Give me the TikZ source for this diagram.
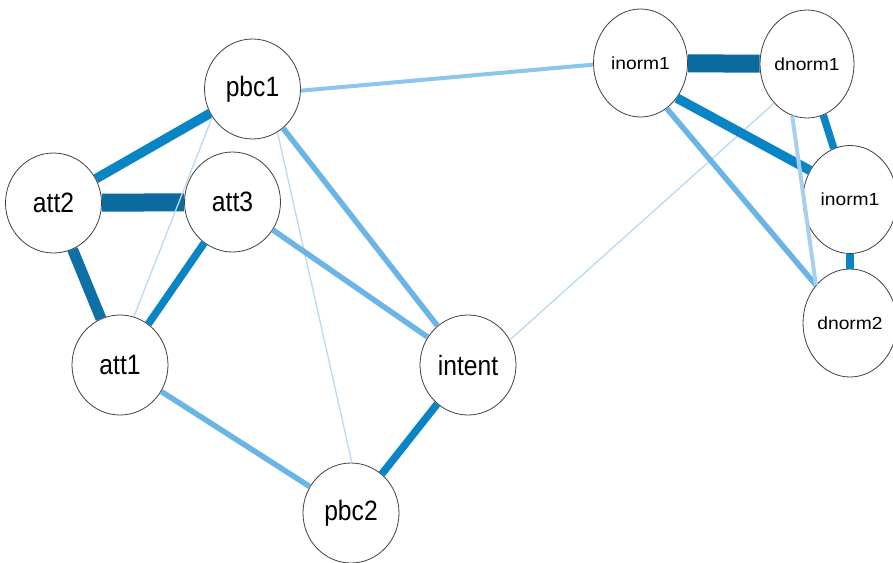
\documentclass[tikz,border=0pt]{standalone}
\usepackage{fontspec}
\setmainfont{Liberation Sans}
\newfontfamily\lfont[FakeStretch=0.88]{Liberation Sans}
\newfontfamily\rfont[FakeStretch=1.1]{Liberation Sans}
\usetikzlibrary{shapes.geometric}
\definecolor{cDark}{HTML}{0B6A9E}
\definecolor{cDarkB}{HTML}{0D71A6}
\definecolor{cMid}{HTML}{0984C4}
\definecolor{cLight}{HTML}{6AB4E6}
\definecolor{cSoft}{HTML}{8CC6EE}
\definecolor{cPale}{HTML}{A6D0F2}
\definecolor{cThin}{HTML}{B8DAF4}
\begin{document}
\begin{tikzpicture}[x=1pt,y=-1pt,
  lnode/.style={ellipse,draw=black!75,line width=0.8pt,fill=white,minimum width=96pt,minimum height=100pt,inner sep=0pt,font=\lfont\fontsize{28}{30}\selectfont},
  rnode/.style={ellipse,draw=black!75,line width=0.8pt,fill=white,minimum width=94pt,minimum height=108pt,inner sep=0pt,font=\rfont\fontsize{17.5}{20}\selectfont},
  eDark/.style={draw=cDark,line width=18pt},
  eDarkB/.style={draw=cDarkB,line width=11pt},
  eMidA/.style={draw=cMid,line width=9.5pt},
  eMidB/.style={draw=cMid,line width=7.5pt},
  eLight/.style={draw=cLight,line width=5.5pt},
  eSoft/.style={draw=cSoft,line width=4pt},
  ePale/.style={draw=cPale,line width=4pt},
  eThin/.style={draw=cThin,line width=1.3pt}]
\useasboundingbox (0,0) rectangle (893,562);
\fill[white] (0,0) rectangle (893,562);

\node[lnode] (pbc1) at (252.5,89) {pbc1};
\node[lnode] (att2) at (53.5,203) {att2};
\node[lnode] (att3) at (232.5,202) {att3};
\node[lnode] (att1) at (120,365) {att1};
\node[lnode] (intent) at (468,365) {intent};
\node[lnode] (pbc2) at (351,513) {pbc2};
\node[rnode] (inorm1) at (640.5,63) {inorm1};
\node[rnode] (dnorm1) at (807,64) {dnorm1};
\node[rnode] (inormB) at (850,199.5) {inorm1};
\node[rnode] (dnorm2) at (850,323) {dnorm2};

\draw[eMidA] (pbc1) -- (att2);
\draw[eDark] (att2) -- (att3);
\draw[eDarkB] (att2) -- (att1);
\draw[eMidB] (att3) -- (att1);
\draw[eThin] (pbc1.215.6) -- (att1.74);
\draw[eThin] (pbc1.300) -- (pbc2.89);
\draw[eLight] (pbc1) -- (intent);
\draw[eLight] (att3) -- (intent);
\draw[eLight] (att1) -- (pbc2);
\draw[eMidB] (intent) -- (pbc2);
\draw[eSoft] (pbc1.358) -- (inorm1.182);
\draw[eThin] (intent.31.5) -- (dnorm1.230);
\draw[eDark] (inorm1) -- (dnorm1);
\draw[eMidA] (inorm1.316) -- (inormB.144);
\draw[eLight] (inorm1.300) -- (dnorm2.132);
\draw[eMidB] (dnorm1) -- (inormB);
\draw[ePale] (dnorm1.254) -- (dnorm2.132);
\draw[eMidB] (inormB) -- (dnorm2);
\end{tikzpicture}
\end{document}
